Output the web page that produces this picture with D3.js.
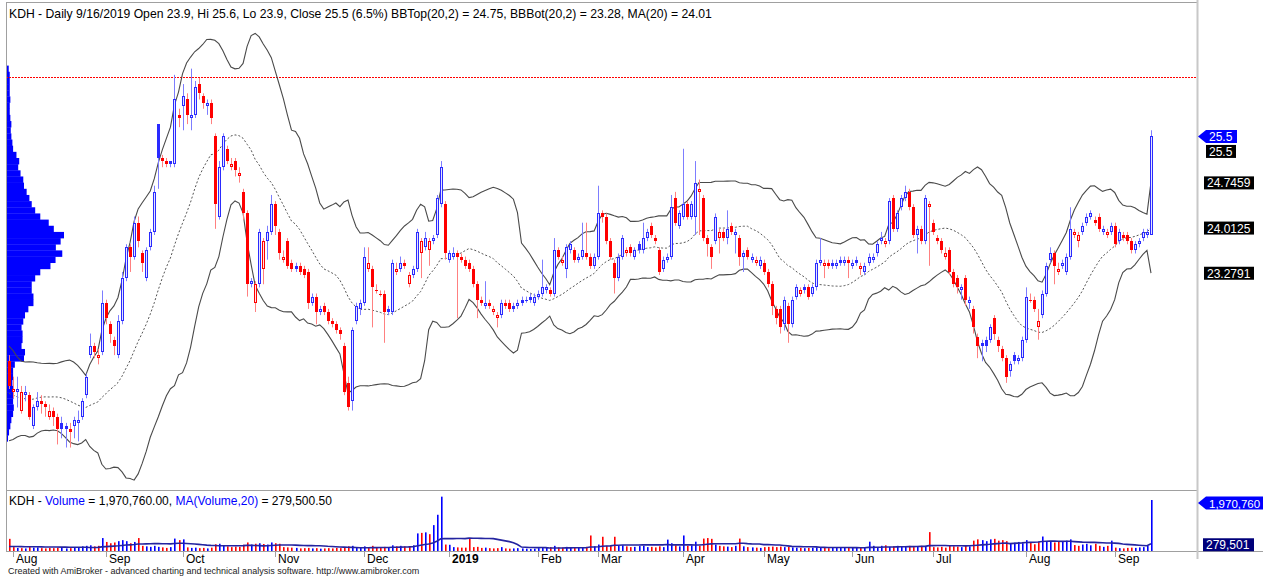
<!DOCTYPE html>
<html><head><meta charset="utf-8">
<script src="https://cdn.jsdelivr.net/npm/d3@7"></script>
<style>
html,body{margin:0;padding:0;background:#fff;overflow:hidden;}
svg{display:block;font-family:"Liberation Sans",Arial,sans-serif;}
</style></head><body>
<svg id="c" width="1263" height="576"></svg>
<script>
// ---------------- DATA (daily bars, 31 Jul 2018 .. 16 Sep 2019) ----------------
const opens = [
21.85,21.35,21.35,21.05,21.3,21.3,20.8,21.1,21.2,21.15,
20.95,21.05,20.95,20.85,20.8,20.75,20.8,20.85,20.95,21.3,
21.95,22.1,21.9,22.0,22.8,22.45,22.2,21.95,22.5,23.2,
23.7,23.55,24.1,23.6,23.2,23.7,23.95,25.7,25.15,25.1,
25.1,25.05,25.85,26.0,26.1,25.8,25.85,26.35,26.15,26.0,
26.05,25.5,24.2,25.0,25.3,25.0,25.1,24.85,24.6,24.25,
23.1,22.8,23.1,23.35,23.8,23.95,24.4,23.95,23.5,23.8,
23.45,23.4,23.4,23.35,23.3,22.8,22.9,22.65,22.75,22.65,
22.5,22.45,22.35,22.1,21.5,21.2,22.5,22.7,22.8,23.35,
23.35,23.0,22.95,22.95,22.7,22.65,23.3,23.35,23.45,23.1,
23.25,23.35,23.6,23.7,23.65,23.8,23.9,24.4,24.4,23.5,
23.55,23.6,23.55,23.5,23.45,23.35,23.1,22.85,22.75,22.8,
22.65,22.55,22.6,22.8,22.8,22.75,22.75,22.85,22.85,22.9,
22.8,22.9,22.95,23.0,23.0,22.95,23.65,23.45,23.35,23.65,
23.65,23.5,23.55,23.6,23.55,23.4,23.55,24.25,24.2,23.8,
23.45,23.2,23.55,23.6,23.7,23.55,23.75,23.65,23.85,24.05,
23.85,23.65,23.35,23.5,23.55,24.5,24.05,24.2,24.4,24.2,
24.2,24.6,24.5,23.85,23.7,23.8,23.85,23.95,23.85,24.05,
23.9,23.85,23.55,23.65,23.5,23.45,23.4,23.45,23.3,23.1,
22.7,22.7,22.45,22.75,22.45,22.9,22.95,23.05,23.05,22.95,
23.05,23.45,23.4,23.45,23.45,23.4,23.5,23.45,23.5,23.4,
23.5,23.35,23.3,23.45,23.5,23.6,23.8,23.75,23.8,24.5,
24.0,24.35,24.5,24.6,24.35,23.9,24.0,23.8,24.35,24.1,
23.85,23.8,23.55,23.65,23.3,23.2,23.0,23.2,22.8,22.7,
22.25,22.15,22.2,22.2,22.55,22.2,22.05,21.9,21.7,21.95,
21.85,21.9,22.2,22.85,22.85,22.4,22.6,22.95,23.5,23.6,
23.3,23.4,23.3,23.55,23.9,23.8,23.95,24.1,24.2,24.15,
24.2,23.95,23.9,23.95,24.05,23.8,23.9,23.9,23.8,23.65,
23.75,23.85,23.9,23.9];
const highs = [
21.95,21.6,21.6,21.45,21.45,21.35,21.15,21.35,21.3,21.2,
21.15,21.1,21.0,20.95,20.85,20.85,20.95,21.05,21.25,21.65,
22.3,22.15,22.05,23.0,22.85,22.5,22.25,22.6,23.3,23.75,
23.75,24.2,24.2,23.65,23.7,24.0,24.7,25.7,25.2,25.15,
25.1,26.5,25.95,26.35,26.2,26.6,26.4,26.45,26.2,26.1,
26.1,25.55,25.1,25.55,25.35,25.15,25.15,25.0,24.65,24.3,
23.2,23.15,24.0,23.85,24.05,24.55,24.45,24.0,23.65,23.85,
23.5,23.45,23.45,23.4,23.35,22.95,22.95,22.75,22.8,22.7,
22.55,22.5,22.4,22.15,21.6,22.4,22.8,22.85,23.7,23.7,
23.4,23.1,23.0,23.0,22.75,23.5,23.45,23.55,23.5,23.3,
23.4,24.0,23.85,23.95,23.85,23.9,24.55,25.1,24.45,23.65,
23.7,23.65,23.6,23.55,23.5,23.4,23.15,22.9,23.15,22.85,
22.75,22.65,22.85,22.85,22.85,22.8,22.85,22.9,22.9,22.95,
22.95,23.0,23.5,23.1,23.05,23.85,23.7,23.55,23.75,23.8,
23.7,23.6,24.1,24.1,23.6,23.6,24.7,24.3,24.25,23.85,
23.5,23.6,23.9,23.7,23.75,23.7,23.8,24.1,24.0,24.1,
23.9,23.7,23.55,23.6,24.55,24.6,24.3,25.3,24.45,24.45,
25.1,24.8,24.55,23.9,23.75,24.25,24.0,24.0,24.3,24.1,
24.0,23.9,23.65,23.7,23.6,23.55,23.55,23.5,23.35,23.15,
22.75,22.75,22.9,22.8,22.9,23.1,23.05,23.1,23.1,23.1,
23.5,23.85,23.5,23.5,23.5,23.5,23.55,23.55,23.55,23.5,
23.55,23.45,23.45,23.6,23.6,23.8,23.95,23.85,24.5,24.55,
24.3,24.55,24.7,24.65,24.4,24.05,24.05,24.55,24.45,24.15,
23.9,23.85,23.7,23.7,23.35,23.25,23.1,23.25,22.9,22.75,
22.3,22.2,22.25,22.45,22.6,22.25,22.1,21.95,21.85,22.0,
21.95,22.25,23.05,22.95,22.9,22.7,23.0,23.45,23.7,23.65,
23.45,23.5,23.6,24.35,24.0,23.95,24.1,24.25,24.3,24.2,
24.25,24.05,24.0,24.1,24.1,24.0,23.95,23.95,23.85,23.8,
23.85,24.0,24.0,25.6];
const lows = [
21.4,21.25,21.1,21.0,21.2,20.9,20.75,21.05,21.0,20.95,
20.9,20.8,20.5,20.6,20.45,20.45,20.6,20.55,20.9,21.25,
21.9,21.9,21.8,21.95,22.45,22.15,21.95,21.9,22.45,23.15,
23.3,23.5,23.7,23.3,23.15,23.65,23.9,24.65,25.0,25.0,
25.0,25.0,25.65,25.6,25.7,25.6,25.8,26.1,25.95,25.85,
25.7,24.0,24.15,24.95,25.05,24.95,24.85,24.75,24.15,22.9,
23.05,22.65,23.05,23.1,23.5,23.9,23.9,23.5,23.45,23.35,
23.3,23.3,23.25,23.2,22.7,22.75,22.45,22.6,22.6,22.45,
22.4,22.3,22.2,21.3,21.05,21.05,22.45,22.6,22.75,23.3,
22.4,22.95,22.9,22.15,22.6,22.6,23.25,23.3,23.35,23.05,
23.2,23.3,23.2,23.65,23.4,23.75,23.85,24.35,23.5,23.45,
23.5,22.55,23.45,23.35,23.3,23.05,22.55,22.75,22.7,22.7,
22.6,22.4,22.55,22.7,22.65,22.65,22.7,22.75,22.8,22.8,
22.75,22.85,22.9,22.95,22.9,22.9,23.5,23.4,23.2,23.6,
23.45,23.45,23.5,23.5,23.35,23.35,23.5,24.1,23.75,23.5,
22.95,23.15,23.5,23.55,23.55,23.5,23.6,23.6,23.8,23.85,
23.75,23.25,23.3,23.45,23.5,24.05,24.0,24.15,24.15,24.15,
23.9,23.9,23.8,23.55,23.35,23.75,23.6,23.8,23.75,23.9,
23.6,23.4,23.3,23.5,23.45,23.4,23.35,23.25,23.05,22.6,
22.45,22.3,22.35,22.15,22.4,22.85,22.9,22.95,22.85,22.9,
23.0,23.4,23.2,23.35,23.35,23.35,23.4,23.4,23.2,23.35,
23.4,23.25,23.25,23.4,23.45,23.55,23.75,23.7,23.75,23.95,
23.95,24.3,24.45,24.3,23.85,23.6,23.75,23.75,23.4,23.9,
23.75,23.6,23.5,23.25,23.05,22.95,22.85,22.75,22.7,22.3,
21.9,21.85,22.0,22.15,22.2,22.0,21.85,21.5,21.6,21.8,
21.8,21.85,22.15,22.8,22.65,22.2,22.55,22.9,23.45,23.1,
23.25,23.35,23.25,23.5,23.85,23.7,23.9,24.05,24.15,24.05,
23.95,23.9,23.85,23.9,23.7,23.75,23.8,23.75,23.6,23.6,
23.7,23.8,23.85,23.9];
const closes = [
21.45,21.4,21.4,21.35,21.35,20.95,21.1,21.2,21.15,21.1,
21.05,20.95,20.75,20.75,20.75,20.7,20.9,20.9,21.2,21.6,
22.1,22.0,21.95,22.8,22.55,22.3,22.1,22.5,23.2,23.7,
23.55,24.1,23.8,23.45,23.65,23.95,24.6,25.15,25.1,25.05,
25.05,26.1,25.8,26.15,25.85,25.85,26.3,26.2,26.05,26.05,
25.8,24.4,25.0,25.5,25.1,25.05,24.95,24.9,24.25,23.1,
23.15,23.1,23.95,23.8,23.95,24.4,24.05,23.6,23.55,23.4,
23.35,23.35,23.3,23.25,22.8,22.9,22.65,22.7,22.65,22.5,
22.45,22.35,22.3,21.35,21.1,22.35,22.75,22.8,23.55,23.45,
23.05,23.0,22.95,22.65,22.65,23.45,23.35,23.45,23.4,23.25,
23.35,23.95,23.8,23.85,23.8,23.85,24.5,25.0,23.6,23.6,
23.6,23.55,23.5,23.4,23.35,23.1,22.85,22.8,22.8,22.75,
22.7,22.6,22.8,22.75,22.7,22.7,22.8,22.8,22.85,22.85,
22.9,22.95,23.05,23.05,22.95,23.65,23.55,23.5,23.7,23.75,
23.5,23.55,23.65,23.55,23.4,23.55,24.25,24.2,23.8,23.55,
23.2,23.55,23.85,23.65,23.6,23.65,23.65,23.85,23.95,23.9,
23.8,23.3,23.5,23.55,24.35,24.1,24.25,24.4,24.2,24.4,
24.75,24.65,23.85,23.75,23.55,24.2,23.95,23.85,24.0,23.95,
23.95,23.55,23.6,23.55,23.55,23.5,23.5,23.3,23.1,22.75,
22.55,22.4,22.85,22.45,22.85,23.05,23.0,23.0,22.9,23.05,
23.45,23.5,23.45,23.4,23.4,23.45,23.45,23.5,23.45,23.45,
23.45,23.4,23.4,23.55,23.55,23.75,23.85,23.8,24.45,24.0,
24.25,24.5,24.6,24.35,23.9,24.0,23.8,24.5,24.4,23.95,
23.8,23.65,23.6,23.3,23.1,23.05,23.05,22.85,22.85,22.4,
22.1,22.1,22.1,22.4,22.3,22.1,21.9,21.6,21.8,21.85,
21.9,22.2,22.9,22.85,22.7,22.5,22.95,23.4,23.6,23.4,
23.35,23.45,23.55,24.0,23.95,23.9,24.05,24.2,24.25,24.1,
24.0,24.0,23.95,24.05,23.75,23.95,23.85,23.8,23.65,23.75,
23.8,23.95,23.95,25.5];
// volume, thousand shares
const volumes = [
470,150,120,110,100,150,130,140,110,100,
120,110,130,120,100,110,120,140,180,200,
220,180,200,500,350,300,330,380,420,380,
300,350,500,200,180,160,200,160,140,120,
150,480,420,450,140,120,130,110,120,100,
130,260,280,230,180,150,170,160,240,330,
250,280,300,270,250,330,300,280,150,140,
130,120,100,110,120,100,110,90,100,110,
100,120,110,150,180,200,150,120,180,150,
200,130,130,160,130,220,180,200,180,160,
220,680,700,720,650,1000,1400,2100,250,240,
150,140,130,130,480,150,160,120,130,110,
100,110,150,100,90,100,110,100,90,80,
90,110,140,120,150,200,140,130,160,150,
140,130,150,160,600,180,250,550,200,200,
550,200,220,180,150,160,190,200,150,160,
140,180,150,440,300,220,180,600,200,220,
360,200,480,500,470,250,200,180,170,150,
200,480,180,150,140,130,120,150,160,170,
150,170,150,160,140,130,120,110,120,130,
140,130,120,110,120,130,120,130,120,140,
130,120,150,360,200,150,200,220,160,180,
200,180,160,200,150,190,200,160,730,150,
140,160,130,200,180,170,150,200,180,400,
450,420,380,450,470,400,420,380,300,320,
350,300,420,320,260,350,560,380,350,330,
380,350,400,450,230,200,250,280,220,280,
200,160,200,400,130,110,100,120,130,120,
140,150,200,1970.76];
// the 19 sessions before the first visible bar (needed for the 20-day indicators)
const warmCloses = [21.9,22.0,21.8,21.5,21.2,21.0,20.8,20.9,21.0,21.1,20.9,20.8,21.0,21.2,21.3,21.5,21.6,21.7,21.9];
const warmVolumes = [150,180,140,200,160,130,170,150,190,140,160,150,130,170,180,140,160,150,170];
// month axis
const monthLabels = ["Aug","Sep","Oct","Nov","Dec","2019","Feb","Mar","Apr","May","Jun","Jul","Aug","Sep"];
const monthBarIndex = [1,24,43,66,88,109,131,146,167,187,209,229,252,274];
// price-volume distribution (left histogram)
const profilePrices = [26.6,26.5,26.4,26.3,26.2,26.1,26.0,25.9,25.8,25.7,25.6,25.5,25.4,25.3,25.2,25.1,25.0,24.9,24.8,24.7,
 24.6,24.5,24.4,24.3,24.2,24.1,24.0,23.9,23.8,23.7,23.6,23.5,23.4,23.3,23.2,23.1,23.0,22.9,22.8,22.7,
 22.6,22.5,22.4,22.3,22.2,22.1,22.0,21.9,21.8,21.7,21.6,21.5,21.4,21.3,21.2,21.1,21.0,20.9,20.8,20.7,20.6];
const profileVolumes = [17,27,27,27,27,33,27,27,33,43,37,43,53,60,93,120,110,133,160,167,
 193,220,243,277,327,410,460,560,527,480,543,477,427,327,277,243,243,260,260,210,
 177,160,143,153,153,143,177,167,77,60,60,53,60,67,60,67,60,43,33,20,10];
// reference level & right-axis labels
const levelLine = 26.46;
const lastClose = 25.5, bbTop = 24.7459, bbMid = 24.0125, bbBot = 23.2791;
const lastVolume = 1970.76, volMA = 279.5005;
const titleText = "KDH - Daily 9/16/2019 Open 23.9, Hi 25.6, Lo 23.9, Close 25.5 (6.5%) BBTop(20,2) = 24.75, BBBot(20,2) = 23.28, MA(20) = 24.01";

// ---------------- CHART ----------------
const svg = d3.select("#c");
const n = closes.length;
const plotL = 6, plotR = 1197, mainT = 3, mainB = 489, volT = 491, volB = 551;
const x = d3.scaleLinear().domain([-0.75, 294.4]).range([plotL, plotR]);
const y = d3.scaleLinear().domain([19.793, 27.666]).range([488, 3]);
const yv = d3.scaleLinear().domain([0, 1970.76]).range([volB, 500]);

svg.append("rect").attr("width",1263).attr("height",576).attr("fill","#fff");
const defs = svg.append("defs");
defs.append("clipPath").attr("id","cm").append("rect").attr("x",plotL+1).attr("y",mainT+1).attr("width",plotR-plotL-2).attr("height",mainB-mainT-1);
defs.append("clipPath").attr("id","cv").append("rect").attr("x",plotL+1).attr("y",volT+1).attr("width",plotR-plotL-2).attr("height",volB-volT-1);

// indicators
const allC = warmCloses.concat(closes), allV = warmVolumes.concat(volumes);
const off = warmCloses.length, P = 20;
const ma = [], up = [], lo = [], vma = [];
for (let i = 0; i < n; i++) {
  const w = allC.slice(i + off - P + 1, i + off + 1);
  const m = d3.mean(w), sd = Math.sqrt(d3.mean(w, v => (v - m) * (v - m)));
  ma.push(m); up.push(m + 2 * sd); lo.push(m - 2 * sd);
  vma.push(d3.mean(allV.slice(i + off - P + 1, i + off + 1)));
}

const main = svg.append("g").attr("clip-path","url(#cm)");
// volume-at-price histogram
const bh = Math.abs(y(0.1) - y(0));
main.append("g").selectAll("rect").data(profilePrices).join("rect")
  .attr("x", plotL + 1).attr("y", p => y(p) - bh / 2).attr("height", bh + 0.3)
  .attr("width", (p, k) => profileVolumes[k] / 560 * 57).attr("fill", "#0000ff");
// dotted level
const ly = Math.round(y(levelLine));
main.append("line").attr("x1",plotL).attr("x2",plotR).attr("y1",ly + 0.5).attr("y2",ly + 0.5)
  .attr("stroke","#ff0000").attr("stroke-dasharray","2,1").attr("stroke-width",1).attr("shape-rendering","crispEdges");
// bollinger bands
const lineOf = arr => d3.line().x((d, i) => x(i)).y(d => y(d))(arr);
main.append("path").attr("d", lineOf(up)).attr("fill","none").attr("stroke","#4a4a4a").attr("stroke-width",1.1);
main.append("path").attr("d", lineOf(lo)).attr("fill","none").attr("stroke","#4a4a4a").attr("stroke-width",1.1);
main.append("path").attr("d", lineOf(ma)).attr("fill","none").attr("stroke","#555").attr("stroke-width",1).attr("stroke-dasharray","2,2");

// candles
const cg = main.append("g");
for (let i = 0; i < n; i++) {
  const o = opens[i], c = closes[i], h = highs[i], l = lows[i];
  const pc = i ? closes[i - 1] : warmCloses[warmCloses.length - 1];
  const isUp = c >= pc;
  const col = isUp ? "#2a2aff" : "#ff0000";
  const wc = isUp ? "#7d7dff" : "#ff8080";
  const xi = Math.round(x(i));
  const top = Math.round(y(Math.max(o, c))), bot = Math.round(y(Math.min(o, c)));
  const hh = Math.max(1, bot - top);
  cg.append("line").attr("x1", xi + 0.5).attr("x2", xi + 0.5).attr("y1", y(h)).attr("y2", top).attr("stroke", wc);
  cg.append("line").attr("x1", xi + 0.5).attr("x2", xi + 0.5).attr("y1", top + hh).attr("y2", y(l)).attr("stroke", wc);
  if (c > o) {
    cg.append("rect").attr("x", xi - 0.5).attr("y", top + 0.5).attr("width", 2).attr("height", Math.max(0.5, hh - 1))
      .attr("fill", isUp ? "#e4e4ff" : "#ffe4e4").attr("stroke", col).attr("stroke-width", 1);
  } else {
    cg.append("rect").attr("x", xi - 1).attr("y", top).attr("width", 3).attr("height", hh).attr("fill", col);
  }
}

// volume panel
const vg = svg.append("g").attr("clip-path","url(#cv)");
vg.selectAll("rect").data(volumes).join("rect")
  .attr("x", (v, i) => Math.round(x(i)))
  .attr("width", 1.6)
  .attr("y", v => yv(v)).attr("height", v => volB - yv(v))
  .attr("fill", (v, i) => closes[i] >= (i ? closes[i - 1] : warmCloses[warmCloses.length - 1]) ? "#0000ff" : "#ff0000");
vg.append("path").attr("d", d3.line().x((d, i) => x(i)).y(d => yv(d))(vma))
  .attr("fill","none").attr("stroke","#2424a0").attr("stroke-width",1.6);

// frames
const g = svg.append("g").attr("stroke","#a0a0a0").attr("fill","none");
g.append("line").attr("x1",plotL+0.5).attr("x2",plotL+0.5).attr("y1",2).attr("y2",volB);
g.append("line").attr("x1",plotL).attr("x2",plotR).attr("y1",2.5).attr("y2",2.5);
g.append("line").attr("x1",plotL).attr("x2",plotR).attr("y1",490.5).attr("y2",490.5);
g.append("line").attr("x1",plotL).attr("x2",1263).attr("y1",volB+0.5).attr("y2",volB+0.5);
svg.append("line").attr("x1",plotR+0.5).attr("x2",plotR+0.5).attr("y1",0).attr("y2",volB+8).attr("stroke","#c8c8c8").attr("stroke-width",2);

// month axis
monthLabels.forEach((m, k) => {
  const xt = Math.round(x(monthBarIndex[k]));
  svg.append("line").attr("x1",xt+0.5).attr("x2",xt+0.5).attr("y1",volB).attr("y2",volB+6).attr("stroke","#a0a0a0");
  svg.append("text").attr("x",xt+3).attr("y",563).attr("font-size",12).attr("fill","#000")
    .attr("font-weight", m === "2019" ? "bold" : "normal").text(m);
});

// titles
svg.append("text").attr("x",9).attr("y",18).attr("font-size",12.2).attr("fill","#000").text(titleText);
const vt = svg.append("text").attr("x",9).attr("y",505).attr("font-size",12).attr("fill","#000");
vt.append("tspan").text("KDH - ");
vt.append("tspan").attr("fill","#0000ff").text("Volume");
vt.append("tspan").text(" = 1,970,760.00, ");
vt.append("tspan").attr("fill","#0000ff").text("MA(Volume,20)");
vt.append("tspan").text(" = 279,500.50");
svg.append("text").attr("x",8).attr("y",574).attr("font-size",9).attr("fill","#222")
  .text("Created with AmiBroker - advanced charting and technical analysis software. http://www.amibroker.com");

// right-axis value labels
function label(yc, txt, bg, arrow, x0, w, tx, fs) {
  const h = 13;
  if (arrow) {
    svg.append("path").attr("d", `M${plotR+1},${yc} L${x0},${yc-h/2} L${x0+w},${yc-h/2} L${x0+w},${yc+h/2} L${x0},${yc+h/2} Z`).attr("fill", bg);
  } else {
    svg.append("rect").attr("x", x0).attr("y", yc - h / 2).attr("width", w).attr("height", h).attr("fill", bg);
  }
  svg.append("text").attr("x", x0 + (tx || 3)).attr("y", yc + 4.5).attr("font-size", fs || 12).attr("fill", "#fff").text(txt);
}
label(y(lastClose), "25.5", "#0000ff", true, 1206, 31);
label(y(lastClose) + 15, "25.5", "#000", false, 1206, 30);
label(y(bbTop), "24.7459", "#000", false, 1204, 50);
label(y(bbMid), "24.0125", "#000", false, 1204, 50);
label(y(bbBot), "23.2791", "#000", false, 1204, 50);
label(Math.max(yv(lastVolume), 503), "1,970,760", "#0000ff", true, 1206, 57, 3, 11.5);
label(yv(volMA) + 1, "279,501", "#00007a", false, 1203, 51);
</script>
</body></html>
